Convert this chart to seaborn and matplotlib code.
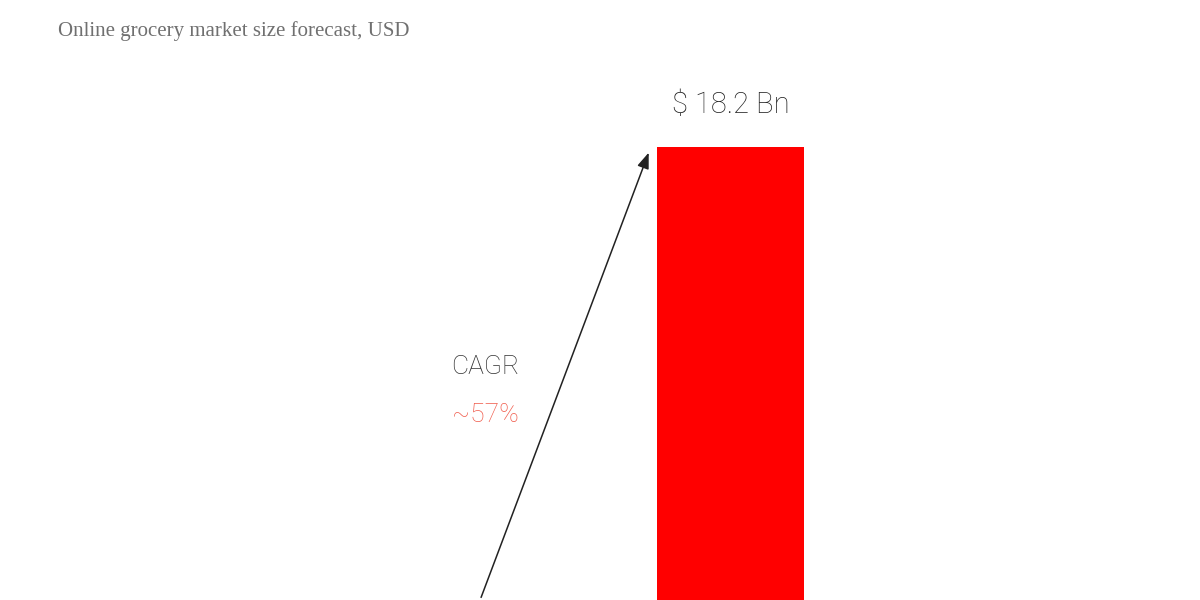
import matplotlib
matplotlib.use("Agg")
import matplotlib.pyplot as plt
import seaborn as sns
import pandas as pd

years = ["Forecast"]
values = [18.2]
value_labels = ["$ 18.2 Bn"]
cagr_label = "CAGR"
cagr_value = "~57%"
title = "Online grocery market size forecast, USD"

sns.set_theme(style="white")
plt.rcParams['font.family'] = ['Roboto', 'DejaVu Sans']

fig = plt.figure(figsize=(12, 6), dpi=100)
ax = fig.add_axes([0, 0, 1, 1])
df = pd.DataFrame({"year": years, "value": values})
sns.barplot(data=df, x="year", y="value", color="#ff0000", saturation=1, width=0.8, ax=ax)
for p in ax.patches:
    p.set_edgecolor("none")

ymax = values[0] / 0.755
ax.set_ylim(0, ymax)
ax.set_xlim(-3.976, 2.555)
ax.axis("off")

ax.text(0, ymax * 495 / 600, value_labels[0], ha="center", va="center", fontsize=21, color="#222222", fontweight="light")
ax.annotate("", xy=(-0.44, ymax * 450 / 600), xytext=(-1.363, 0),
            arrowprops=dict(arrowstyle="-|>,head_length=0.8,head_width=0.3", color="#222222", lw=1.1))
ax.text(-1.336, ymax * 233 / 600, cagr_label, ha="center", va="center", fontsize=19, color="#333333", fontweight="light")
ax.text(-1.336, ymax * 185 / 600, cagr_value, ha="center", va="center", fontsize=19, color="#f05a4a", fontweight="light")

fig.text(58 / 1200, 1 - 31 / 600, title, ha="left", va="center", fontsize=15,
         color="#707070", family=["Liberation Serif", "DejaVu Serif"])

fig.savefig("out.png", dpi=100)
